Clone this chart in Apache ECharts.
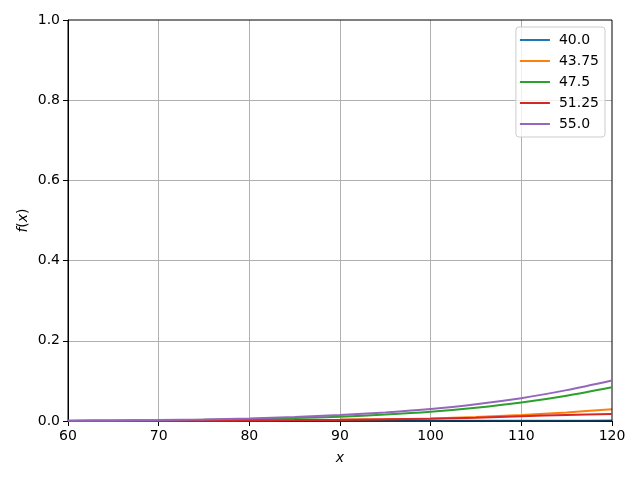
<!DOCTYPE html>
<html><head><meta charset="utf-8">
<script src="https://cdn.jsdelivr.net/npm/echarts@6/dist/echarts.min.js"></script>
<style>html,body{margin:0;padding:0;background:#fff}#c{width:640px;height:480px}</style>
</head><body><div id="c"></div>
<script>
var xs = [60, 65, 70, 75, 80, 85, 90, 95, 100, 105, 110, 115, 120];
var names = ['40.0', '43.75', '47.5', '51.25', '55.0'];
var s40   = [0.0000, 0.0000, 0.0000, 0.0000, 0.0001, 0.0001, 0.0001, 0.0002, 0.0003, 0.0004, 0.0005, 0.0007, 0.0010];
var s4375 = [0.0003, 0.0005, 0.0008, 0.0012, 0.0017, 0.0024, 0.0032, 0.0043, 0.0062, 0.0098, 0.0150, 0.0215, 0.0290];
var s475  = [0.0006, 0.0009, 0.0014, 0.0030, 0.0048, 0.0075, 0.0108, 0.0160, 0.0230, 0.0330, 0.0460, 0.0630, 0.0840];
var s5125 = [0.0003, 0.0005, 0.0008, 0.0012, 0.0017, 0.0024, 0.0032, 0.0043, 0.0056, 0.0082, 0.0118, 0.0150, 0.0175];
var s55   = [0.0008, 0.0013, 0.0022, 0.0040, 0.0065, 0.0100, 0.0150, 0.0215, 0.0300, 0.0420, 0.0570, 0.0770, 0.1010];
var values = [s40, s4375, s475, s5125, s55];
var colors = ['#1f77b4', '#ff7f0e', '#2ca02c', '#d62728', '#9467bd'];
var font = 'DejaVu Sans';

var series = names.map(function (n, i) {
  return {
    name: n, type: 'line', showSymbol: false, smooth: 0.3,
    lineStyle: { width: 2, color: colors[i] }, itemStyle: { color: colors[i] },
    data: xs.map(function (x, j) { return [x, values[i][j]]; }),
    z: 3 + i
  };
});

var chart = echarts.init(document.getElementById('c'));
chart.setOption({
  animation: false,
  backgroundColor: '#fff',
  grid: { left: 68, right: 28, top: 20, bottom: 59, show: true, borderColor: '#000', borderWidth: 1, containLabel: false, z: 5 },
  xAxis: {
    type: 'value', min: 60, max: 120, interval: 10,
    name: 'x', nameLocation: 'middle', nameGap: 30,
    nameTextStyle: { fontFamily: font, fontSize: 14, fontStyle: 'italic', color: '#000' },
    axisLine: { show: true, lineStyle: { color: '#000', width: 1 } },
    axisTick: { show: true, length: 5, inside: false, lineStyle: { color: '#000' } },
    axisLabel: { fontFamily: font, fontSize: 14, color: '#000', margin: 8 },
    splitLine: { show: true, showMinLine: false, showMaxLine: false, lineStyle: { color: '#b0b0b0', width: 1 } }
  },
  yAxis: {
    type: 'value', min: 0, max: 1, interval: 0.2,
    name: '{i|f}{n|(}{i|x}{n|)}', nameLocation: 'middle', nameGap: 38, nameRotate: 90,
    nameMoveOverlap: false,
    nameTextStyle: { fontFamily: font, fontSize: 14, color: '#000',
      rich: { i: { fontFamily: font, fontSize: 14, fontStyle: 'italic', color: '#000' },
              n: { fontFamily: font, fontSize: 14, color: '#000' } } },
    axisLine: { show: true, lineStyle: { color: '#000', width: 1 } },
    axisTick: { show: true, length: 5, inside: false, lineStyle: { color: '#000' } },
    axisLabel: { fontFamily: font, fontSize: 14, color: '#000', margin: 8,
      formatter: function (v) { return v.toFixed(1); } },
    splitLine: { show: true, showMinLine: false, showMaxLine: false, lineStyle: { color: '#b0b0b0', width: 1 } }
  },
  legend: {
    orient: 'vertical', right: 35, top: 27,
    data: names.map(function (n) { return { name: n, icon: 'rect' }; }),
    itemWidth: 30, itemHeight: 2, itemGap: 7,
    padding: [6, 6, 6, 4],
    backgroundColor: 'rgba(255,255,255,0.8)',
    borderColor: '#cccccc', borderWidth: 1, borderRadius: 3,
    textStyle: { fontFamily: font, fontSize: 14, color: '#000', padding: [0, 0, 0, 4], lineHeight: 14 }
  },
  series: series
});
</script></body></html>
